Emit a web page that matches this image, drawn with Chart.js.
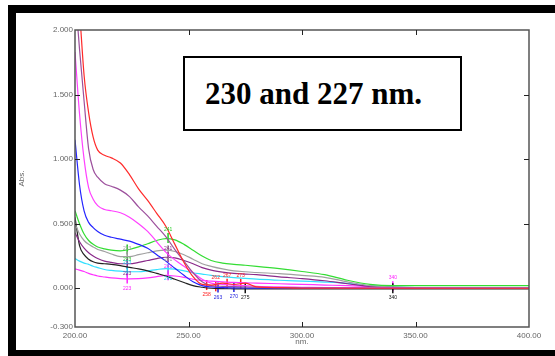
<!DOCTYPE html>
<html>
<head>
<meta charset="utf-8">
<script src="https://cdn.jsdelivr.net/npm/chart.js@4.4.1/dist/chart.umd.min.js"></script>
<style>
  html, body { margin: 0; padding: 0; background: #fff; }
  body { width: 555px; height: 356px; position: relative; overflow: hidden; }
  .band { position: absolute; background: #000; }
  #bandTop { left: 8px; top: 5px; width: 547px; height: 8px; }
  #bandLeft { left: 8px; top: 5px; width: 8px; height: 351px; }
  #bandBottom { left: 8px; top: 350px; width: 547px; height: 6px; }
  #wrap { position: absolute; left: 0; top: 0; width: 555px; height: 356px; }
  #note { position: absolute; left: 183px; top: 56px; width: 279px; height: 75px; border: 2px solid #000; box-sizing: border-box; background: #fff;
          font-family: "Liberation Serif", "Times New Roman", serif; font-weight: bold; font-size: 31px; line-height: 1; }
  #note span { position: absolute; left: 20px; top: 20px; white-space: nowrap; }
</style>
</head>
<body>
<div class="band" id="bandTop"></div>
<div class="band" id="bandLeft"></div>
<div class="band" id="bandBottom"></div>
<div id="wrap"><canvas id="spectra" width="555" height="356"></canvas></div>
<div id="note"><span>230 and 227 nm.</span></div>
<script>
// wavelengths (nm) shared by every trace
const wavelengths = [200, 202, 204, 206, 208, 210, 213, 216, 220, 224, 228, 232, 236, 240, 244, 248, 252, 256, 260, 265, 270, 275, 280, 290, 300, 310, 320, 330, 340, 350, 375, 400];

// absorbance
const redAbs     = [2.60, 2.15, 1.65, 1.36, 1.17, 1.07, 1.03, 1.01, 0.97, 0.88, 0.77, 0.68, 0.58, 0.48, 0.34, 0.20, 0.09, 0.03, 0.025, 0.04, 0.03, 0.04, 0.01, 0.005, 0.0, 0.0, 0.0, 0.0, 0.0, 0.0, 0.0, 0.0];
const mauveAbs   = [2.30, 1.85, 1.45, 1.08, 0.92, 0.86, 0.81, 0.79, 0.76, 0.71, 0.63, 0.56, 0.48, 0.40, 0.30, 0.21, 0.12, 0.05, 0.02, 0.015, 0.012, 0.01, 0.008, 0.005, 0.004, 0.003, 0.002, 0.002, 0.002, 0.001, 0.0, 0.0];
const pinkAbs    = [1.83, 1.35, 1.00, 0.78, 0.69, 0.64, 0.61, 0.60, 0.585, 0.55, 0.50, 0.44, 0.36, 0.28, 0.22, 0.17, 0.12, 0.07, 0.04, 0.03, 0.025, 0.02, 0.015, 0.01, 0.008, 0.006, 0.005, 0.004, 0.003, 0.002, 0.0, 0.0];
const blueAbs    = [1.15, 0.80, 0.60, 0.51, 0.47, 0.44, 0.41, 0.395, 0.38, 0.365, 0.34, 0.31, 0.26, 0.21, 0.155, 0.10, 0.05, 0.02, 0.01, 0.005, 0.003, 0.002, 0.001, 0.0, 0.0, 0.0, 0.0, 0.0, 0.0, 0.0, 0.0, 0.0];
const greenAbs   = [0.60, 0.50, 0.42, 0.37, 0.34, 0.32, 0.305, 0.295, 0.29, 0.30, 0.32, 0.345, 0.37, 0.385, 0.375, 0.34, 0.295, 0.25, 0.215, 0.195, 0.185, 0.178, 0.17, 0.152, 0.13, 0.105, 0.062, 0.03, 0.02, 0.02, 0.02, 0.02];
const grayAbs    = [0.50, 0.42, 0.37, 0.34, 0.32, 0.30, 0.285, 0.265, 0.245, 0.245, 0.26, 0.275, 0.29, 0.295, 0.285, 0.26, 0.225, 0.19, 0.17, 0.15, 0.135, 0.128, 0.122, 0.114, 0.10, 0.085, 0.05, 0.02, 0.01, 0.005, 0.005, 0.005];
const violetAbs  = [0.43, 0.36, 0.31, 0.275, 0.25, 0.23, 0.21, 0.20, 0.19, 0.19, 0.20, 0.215, 0.23, 0.24, 0.235, 0.215, 0.19, 0.16, 0.14, 0.125, 0.115, 0.11, 0.105, 0.088, 0.075, 0.058, 0.035, 0.015, 0.008, 0.005, 0.005, 0.005];
const blackAbs   = [0.55, 0.33, 0.26, 0.225, 0.205, 0.195, 0.19, 0.185, 0.175, 0.162, 0.15, 0.135, 0.115, 0.095, 0.07, 0.045, 0.02, 0.008, 0.0, -0.003, -0.004, -0.005, -0.005, -0.005, -0.005, -0.005, -0.005, -0.005, -0.005, -0.005, -0.005, -0.005];
const cyanAbs    = [0.23, 0.21, 0.195, 0.185, 0.17, 0.16, 0.145, 0.138, 0.132, 0.128, 0.128, 0.135, 0.145, 0.152, 0.148, 0.135, 0.12, 0.11, 0.10, 0.09, 0.082, 0.076, 0.07, 0.062, 0.055, 0.048, 0.038, 0.02, 0.01, 0.005, 0.005, 0.005];
const magentaAbs = [0.15, 0.14, 0.13, 0.115, 0.105, 0.095, 0.087, 0.08, 0.075, 0.073, 0.074, 0.08, 0.09, 0.10, 0.095, 0.085, 0.07, 0.06, 0.055, 0.05, 0.045, 0.042, 0.04, 0.035, 0.03, 0.025, 0.02, 0.012, 0.006, 0.0, 0.0, 0.0];

// peak-pick markers
const peakNm    = [223, 223, 223, 223, 223, 241, 241, 241, 241, 241, 258, 262, 263, 267, 270, 273, 275, 340, 340];
const peakAbs   = [0.30, 0.245, 0.19, 0.13, 0.075, 0.39, 0.295, 0.24, 0.15, 0.10, 0.025, 0.015, 0.005, 0.035, 0.01, 0.035, 0.0, 0.015, 0.0];
const peakColor = ["#22cc22", "#999999", "#8a2a8a", "#22ccee", "#ff22ff", "#22cc22", "#999999", "#8a2a8a", "#22ccee", "#ff22ff", "#ff2222", "#ff2222", "#2222dd", "#ff2222", "#2222dd", "#ff2222", "#111111", "#ff22ff", "#111111"];

const yTicks = [-0.3, 0.0, 0.5, 1.0, 1.5, 2.0];
const xTicks = [200, 250, 300, 350, 400];

const traces = [
    { abs: redAbs, color: "#ff2a2a" },
    { abs: mauveAbs, color: "#9c4f9c" },
    { abs: pinkAbs, color: "#ff40ff" },
    { abs: blueAbs, color: "#2424ff" },
    { abs: greenAbs, color: "#33dd33" },
    { abs: grayAbs, color: "#a0a0a0" },
    { abs: violetAbs, color: "#8a2a8a" },
    { abs: blackAbs, color: "#222222" },
    { abs: cyanAbs, color: "#33e0ff" },
    { abs: magentaAbs, color: "#ff33ff" }
];

const datasets = traces.map(t => ({
    data: wavelengths.map((w, i) => ({ x: w, y: t.abs[i] })),
    borderColor: t.color,
    borderWidth: 1.2,
    pointRadius: 0,
    cubicInterpolationMode: "monotone",
    fill: false
}));

datasets.push({
    data: peakNm.map((w, i) => ({ x: w, y: peakAbs[i] })),
    showLine: false,
    pointStyle: "line",
    rotation: 90,
    pointRadius: 5,
    pointBorderWidth: 1.5,
    pointBorderColor: peakColor,
    borderColor: peakColor
});

// plot box and inward ticks, like the instrument printout
const framePlugin = {
    id: "framePlugin",
    afterDraw(chart) {
        const { ctx, chartArea: a, scales } = chart;
        ctx.save();
        ctx.strokeStyle = "#555";
        ctx.lineWidth = 1.5;
        ctx.strokeRect(a.left, a.top, a.right - a.left, a.bottom - a.top);
        ctx.strokeStyle = "#222";
        ctx.lineWidth = 1;
        ctx.beginPath();
        xTicks.slice(1, -1).forEach(v => {
            const px = Math.round(scales.x.getPixelForValue(v)) + 0.5;
            ctx.moveTo(px, a.bottom); ctx.lineTo(px, a.bottom - 5);
            ctx.moveTo(px, a.top); ctx.lineTo(px, a.top + 5);
        });
        yTicks.slice(1, -1).forEach(v => {
            const py = Math.round(scales.y.getPixelForValue(v)) + 0.5;
            ctx.moveTo(a.left, py); ctx.lineTo(a.left + 5, py);
            if (v > 0) { ctx.moveTo(a.right, py); ctx.lineTo(a.right - 5, py); }
        });
        ctx.stroke();

        // tiny peak labels
        const meta = chart.getDatasetMeta(chart.data.datasets.length - 1);
        ctx.font = "5px 'Liberation Sans', Arial, sans-serif";
        ctx.textAlign = "center";
        meta.data.forEach((pt, i) => {
            ctx.fillStyle = peakColor[i];
            const below = i % 2 === 0;
            ctx.fillText(peakNm[i].toFixed(0), pt.x, below ? pt.y + 11 : pt.y - 7);
        });
        ctx.restore();
    }
};

new Chart(document.getElementById("spectra"), {
    type: "line",
    data: { datasets },
    options: {
        responsive: false,
        animation: false,
        layout: { padding: { left: 0, top: 30, right: 26, bottom: 0 } },
        plugins: { legend: { display: false }, tooltip: { enabled: false } },
        scales: {
            x: {
                type: "linear",
                min: 200,
                max: 400,
                afterBuildTicks: s => { s.ticks = xTicks.map(v => ({ value: v })); },
                afterFit: s => { s.height = 29; },
                grid: { display: false, drawTicks: false },
                border: { display: false },
                ticks: {
                    padding: 4,
                    color: "#666",
                    font: { family: "'Liberation Sans', Arial, sans-serif", size: 8 },
                    maxRotation: 0,
                    callback: v => v.toFixed(2)
                },
                title: {
                    display: true,
                    text: "nm.",
                    color: "#666",
                    font: { family: "'Liberation Sans', Arial, sans-serif", size: 8 },
                    padding: { top: 0, bottom: 9 }
                }
            },
            y: {
                min: -0.3,
                max: 2.0,
                afterBuildTicks: s => { s.ticks = yTicks.map(v => ({ value: v })); },
                afterFit: s => { s.width = 75; },
                grid: { display: false, drawTicks: false },
                border: { display: false },
                ticks: {
                    padding: 2,
                    color: "#666",
                    font: { family: "'Liberation Sans', Arial, sans-serif", size: 8 },
                    callback: v => v.toFixed(3)
                },
                title: {
                    display: true,
                    text: "Abs.",
                    color: "#666",
                    font: { family: "'Liberation Sans', Arial, sans-serif", size: 8 },
                    padding: { top: 17, bottom: 0 }
                }
            }
        }
    },
    plugins: [framePlugin]
});
</script>
</body>
</html>
